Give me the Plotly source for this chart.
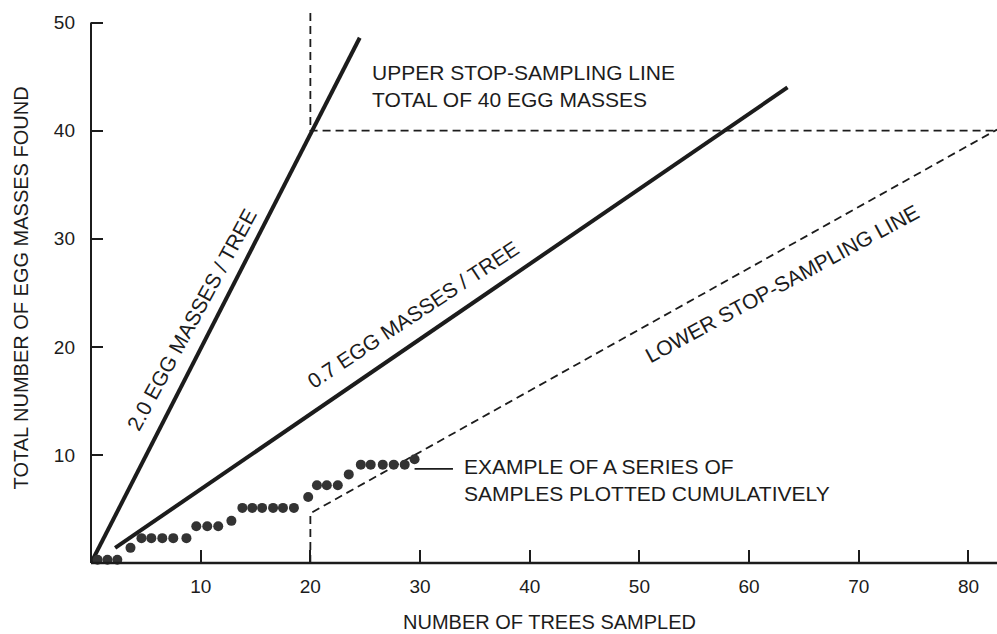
import plotly.graph_objects as go

# ---- data ----
sample_x = [0.6, 1.5, 2.4, 3.6, 4.6, 5.5, 6.5, 7.5, 8.7, 9.6, 10.6, 11.6, 12.8,
            13.8, 14.7, 15.6, 16.6, 17.5, 18.5, 19.8, 20.6, 21.5, 22.5, 23.5,
            24.6, 25.5, 26.6, 27.6, 28.6, 29.5]
sample_y = [0.3, 0.3, 0.3, 1.4, 2.3, 2.3, 2.3, 2.3, 2.3, 3.4, 3.4, 3.4, 3.9,
            5.1, 5.1, 5.1, 5.1, 5.1, 5.1, 6.1, 7.2, 7.2, 7.2, 8.2,
            9.1, 9.1, 9.1, 9.1, 9.1, 9.6]

rate2_x = [0.0, 24.5]
rate2_y = [0.0, 48.6]
rate07_x = [2.2, 63.5]
rate07_y = [1.4, 44.0]

upper_x = [20.0, 20.0, 82.6]
upper_y = [50.9, 40.0, 40.0]
lower_x = [20.0, 20.0, 82.6]
lower_y = [0.0, 4.6, 40.1]

leader_x = [29.5, 33.0]
leader_y = [8.7, 8.7]

x_ticks = [10, 20, 30, 40, 50, 60, 70, 80]
y_ticks = [10, 20, 30, 40, 50]

X_RANGE = [0, 82.6]
Y_RANGE = [0, 52.0]

INK = "#1c1c1c"
FONT = "Liberation Sans"

fig = go.Figure()

fig.add_trace(go.Scatter(x=upper_x, y=upper_y, mode="lines",
                         line=dict(color=INK, width=1.8, dash="8px,5px"),
                         hoverinfo="skip"))
fig.add_trace(go.Scatter(x=lower_x, y=lower_y, mode="lines",
                         line=dict(color=INK, width=1.8, dash="8px,5px"),
                         hoverinfo="skip"))
fig.add_trace(go.Scatter(x=rate2_x, y=rate2_y, mode="lines",
                         line=dict(color=INK, width=4), hoverinfo="skip"))
fig.add_trace(go.Scatter(x=rate07_x, y=rate07_y, mode="lines",
                         line=dict(color=INK, width=4), hoverinfo="skip"))
fig.add_trace(go.Scatter(x=leader_x, y=leader_y, mode="lines",
                         line=dict(color=INK, width=1.8), hoverinfo="skip"))
fig.add_trace(go.Scatter(x=sample_x, y=sample_y, mode="markers",
                         marker=dict(color="#333333", size=10),
                         cliponaxis=False, hoverinfo="skip"))

annot_font = dict(family=FONT, size=21, color=INK)
annotations = [
    dict(x=25.4, y=44.1, text="UPPER STOP-SAMPLING LINE<br>TOTAL OF 40 EGG MASSES",
         xanchor="left", yanchor="middle", align="left"),
    dict(x=33.8, y=7.7, text="EXAMPLE OF A SERIES OF<br>SAMPLES PLOTTED CUMULATIVELY",
         xanchor="left", yanchor="middle", align="left"),
    dict(x=9.2, y=22.5, text="2.0 EGG MASSES / TREE", textangle=-61.5,
         xanchor="center", yanchor="middle"),
    dict(x=29.35, y=23.0, text="0.7 EGG MASSES / TREE", textangle=-33.5,
         xanchor="center", yanchor="middle"),
    dict(x=63.0, y=25.9, text="LOWER STOP-SAMPLING LINE", textangle=-28.5,
         xanchor="center", yanchor="middle"),
]
for a in annotations:
    a.update(xref="x", yref="y", showarrow=False, font=annot_font)

# axis titles as paper annotations
annotations.append(dict(x=0.506, y=-0.105, xref="paper", yref="paper",
                        text="NUMBER OF TREES SAMPLED", showarrow=False,
                        xanchor="center", yanchor="middle",
                        font=dict(family=FONT, size=20, color=INK)))
annotations.append(dict(x=-0.077, y=0.489, xref="paper", yref="paper",
                        text="TOTAL NUMBER OF EGG MASSES FOUND", showarrow=False,
                        textangle=-90, xanchor="center", yanchor="middle",
                        font=dict(family=FONT, size=20, color=INK)))

fig.update_layout(
    width=997, height=634,
    margin=dict(l=91, r=0, t=1, b=71),
    paper_bgcolor="white", plot_bgcolor="white",
    showlegend=False,
    annotations=annotations,
    shapes=[
        dict(type="line", xref="paper", yref="paper", x0=0, x1=0,
             y0=0, y1=50 / Y_RANGE[1], line=dict(color=INK, width=2)),
        dict(type="line", xref="paper", yref="paper", x0=0, x1=1,
             y0=0, y1=0, line=dict(color=INK, width=2.5)),
    ],
    xaxis=dict(range=X_RANGE, tickvals=x_ticks, ticktext=[str(v) for v in x_ticks],
               ticks="inside", ticklen=13, tickwidth=1.6, tickcolor=INK,
               showgrid=False, zeroline=False, showline=False,
               ticklabelstandoff=10,
               tickfont=dict(family=FONT, size=19, color=INK)),
    yaxis=dict(range=Y_RANGE, tickvals=y_ticks, ticktext=[str(v) for v in y_ticks],
               ticks="inside", ticklen=12, tickwidth=1.6, tickcolor=INK,
               showgrid=False, zeroline=False, showline=False,
               ticklabelstandoff=15,
               tickfont=dict(family=FONT, size=19, color=INK)),
)

fig.write_html("out.html", config={"displayModeBar": False},
               post_script="document.body.style.margin='0';document.body.style.padding='0';")
